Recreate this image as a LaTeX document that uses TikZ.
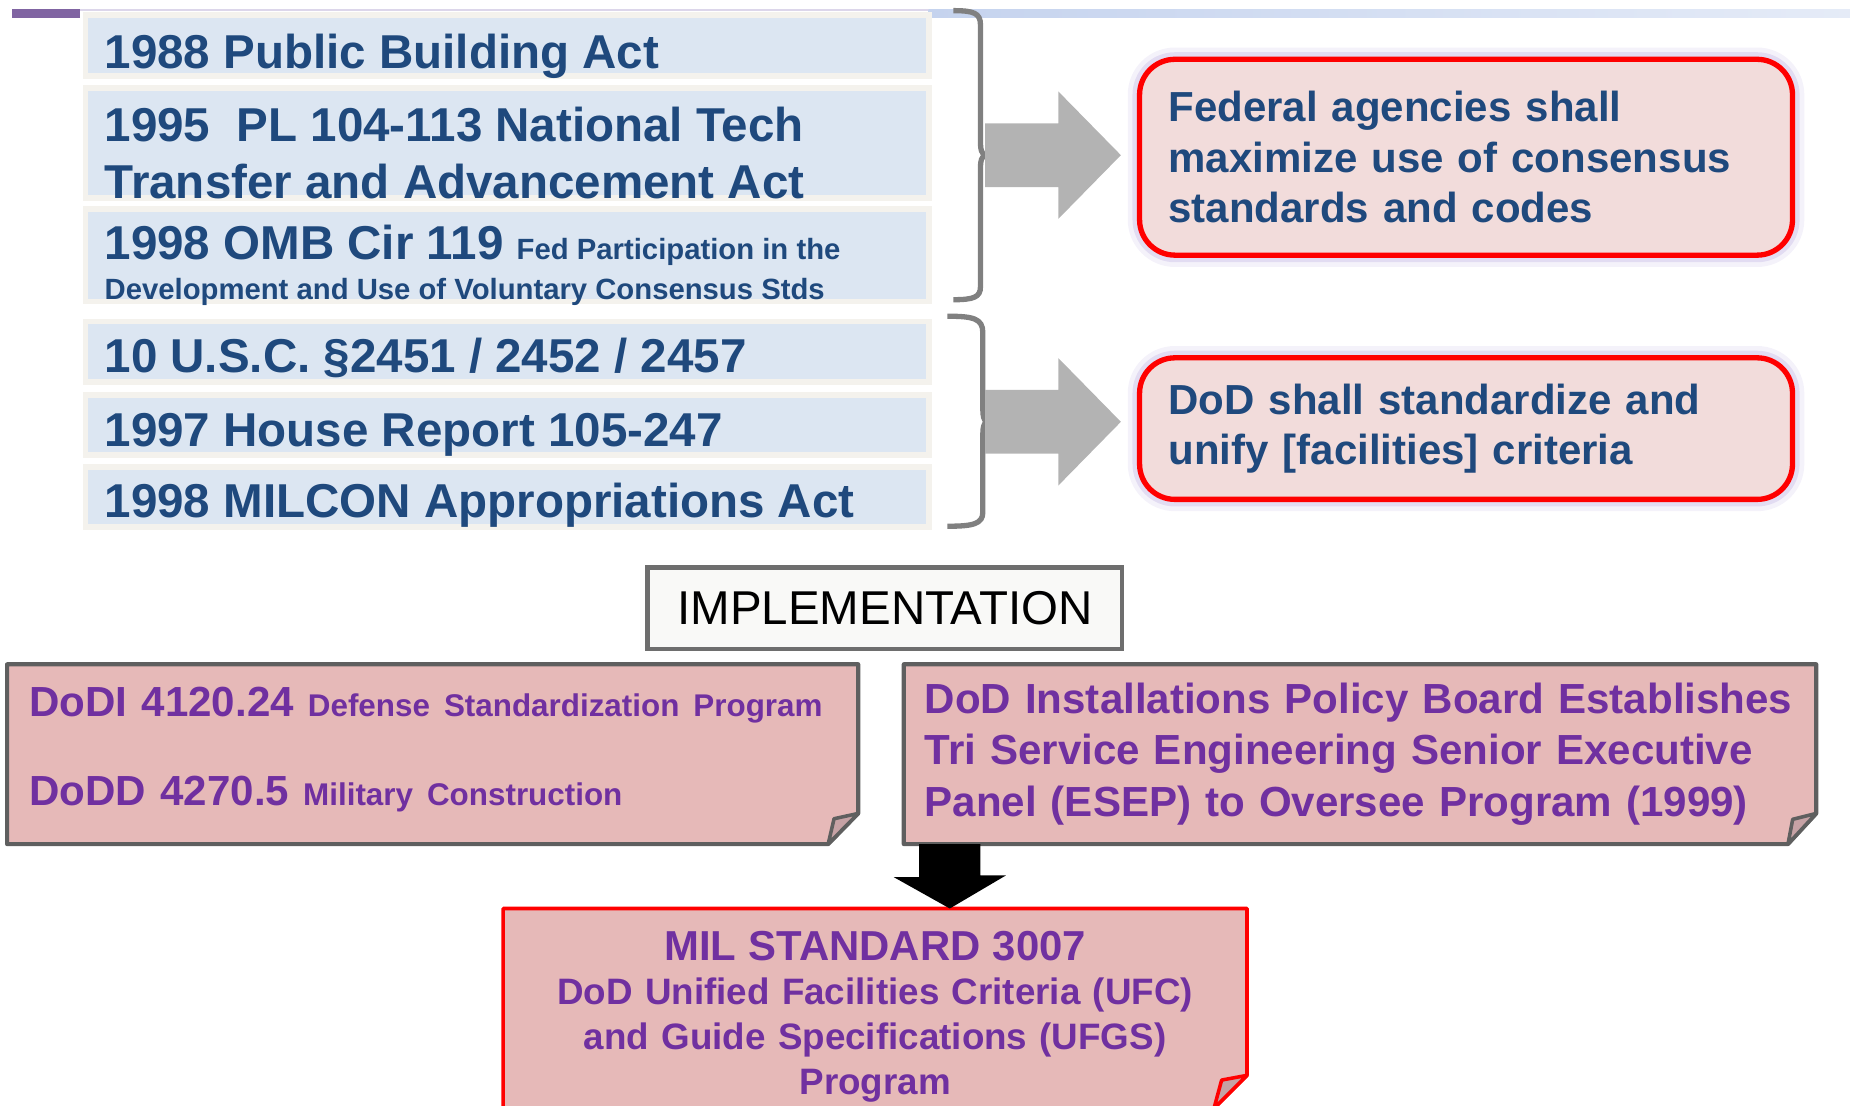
\documentclass[tikz,border=0pt]{standalone}
\usepackage{fontspec}
\setmainfont{Liberation Sans}
\usetikzlibrary{backgrounds}

\definecolor{lawblue}{HTML}{DCE6F2}
\definecolor{lawrim}{HTML}{F4F2ED}
\definecolor{lawink}{HTML}{1F497D}
\definecolor{bracegray}{HTML}{808080}
\definecolor{arrowgray}{HTML}{B3B3B3}
\definecolor{goalfill}{HTML}{F2DCDB}
\definecolor{goalglow}{HTML}{B4A2DC}
\definecolor{notefill}{HTML}{E6B9B8}
\definecolor{noteflap}{HTML}{C6A2A5}
\definecolor{noteedge}{HTML}{5F5F5F}
\definecolor{noteink}{HTML}{7030A0}
\definecolor{implfill}{HTML}{F9F9F7}
\definecolor{implrim}{HTML}{6E6E6E}
\definecolor{barpurple}{HTML}{8064A2}
\definecolor{barblue}{HTML}{C5D3EE}
\definecolor{barline}{HTML}{DCD6EA}

\newcommand{\lawbig}{\fontsize{11.46pt}{13.9pt}\selectfont\bfseries}
\newcommand{\lawsmall}{\fontsize{7.06pt}{8.5pt}\selectfont\bfseries}
\newcommand{\goalfont}{\fontsize{10.13pt}{12.23pt}\selectfont\bfseries}
\newcommand{\notebig}{\fontsize{10.15pt}{12.38pt}\selectfont\bfseries}
\newcommand{\notesmall}{\fontsize{7.57pt}{12.38pt}\selectfont\bfseries}
\newcommand{\milbig}{\fontsize{10.1pt}{10.81pt}\selectfont\bfseries}
\newcommand{\milfont}{\fontsize{8.87pt}{10.81pt}\selectfont\bfseries}
\newcommand{\implfont}{\fontsize{11.45pt}{13.6pt}\selectfont}

\tikzset{
  lawbox/.style={fill=lawblue, draw=lawrim, line width=0.05cm, minimum width=7.15cm, inner sep=0pt, anchor=north west},
  lawtext/.style={text=lawink, font=\lawbig, inner sep=0pt, anchor=base west},
  bracepath/.style={draw=bracegray, line width=0.045cm},
  goalbox/.style={rounded corners=0.3cm, fill=goalfill, draw=red, line width=0.045cm,
    text=lawink, font=\goalfont, align=left, anchor=north west,
    inner xsep=0.245cm, inner ysep=0pt, minimum width=5.534cm, text width=5.044cm,
    preaction={draw=goalglow, line width=0.2cm, opacity=0.14},
    preaction={draw=goalglow, line width=0.12cm, opacity=0.28}},
  notebox/.style={text=noteink, font=\notebig, align=left, anchor=north west, inner ysep=0pt},
  notepath/.style={fill=notefill, draw=noteedge, line width=0.035cm, line join=round},
  flappath/.style={fill=noteflap, draw=noteedge, line width=0.03cm, line join=round},
  milbox/.style={text=noteink, font=\milfont, align=center, anchor=north west, inner xsep=0.1cm, inner ysep=0pt,
    minimum width=6.29cm, text width=6.09cm, minimum height=1.68cm},
  implbox/.style={fill=implfill, draw=implrim, line width=0.04cm, font=\implfont, minimum width=4.02cm, minimum height=0.69cm}
}

\begin{document}
\begin{tikzpicture}
  \useasboundingbox (0,0) rectangle (15.68,-9.37);

  % Title bar remains along the top
  \fill[barpurple] (0.10,-0.08) rectangle (0.68,-0.155);
  \draw[barline, line width=0.015cm] (0.68,-0.085) -- (7.87,-0.085);
  \shade[left color=barblue, right color=barblue!45!white] (7.87,-0.08) rectangle (15.68,-0.15);

  % The acts and reports on the left
  \node[lawbox, minimum height=0.515cm] (pba)    at (0.70,-0.105) {};
  \node[lawbox, minimum height=0.93cm]  (ntta)   at (0.70,-0.72) {};
  \node[lawbox, minimum height=0.78cm]  (omb)    at (0.70,-1.75) {};
  \node[lawbox, minimum height=0.51cm]  (usc)    at (0.70,-2.70) {};
  \node[lawbox, minimum height=0.51cm]  (hrpt)   at (0.70,-3.32) {};
  \node[lawbox, minimum height=0.51cm]  (milcon) at (0.70,-3.93) {};

  \node[lawtext] (pbatxt)    at (0.88,-0.58) {1988 Public Building Act};
  \node[lawtext] (nttatxt)   at (0.88,-1.20) {1995\ \ PL 104-113 National Tech};
  \node[lawtext] (nttbtxt)   at (0.88,-1.68) {Transfer and Advancement Act};
  \node[lawtext] (ombtxt)    at (0.88,-2.20) {1998 OMB Cir 119 {\lawsmall Fed Participation in the}};
  \node[lawtext, font=\lawsmall] (ombsub) at (0.88,-2.54) {Development and Use of Voluntary Consensus Stds};
  \node[lawtext] (usctxt)    at (0.88,-3.16) {10 U.S.C. §2451 / 2452 / 2457};
  \node[lawtext] (hrpttxt)   at (0.88,-3.78) {1997 House Report 105-247};
  \node[lawtext] (milcontxt) at (0.88,-4.39) {1998 MILCON Appropriations Act};

  % Braces grouping the acts
  \draw[bracepath] (8.08,-0.09) .. controls (8.25,-0.09) and (8.31,-0.11) .. (8.31,-0.21) -- (8.31,-1.21)
    .. controls (8.31,-1.27) and (8.32,-1.30) .. (8.35,-1.315) .. controls (8.32,-1.33) and (8.31,-1.36) .. (8.31,-1.42)
    -- (8.31,-2.43) .. controls (8.31,-2.52) and (8.25,-2.54) .. (8.08,-2.54);
  \draw[bracepath] (8.03,-2.68) .. controls (8.25,-2.68) and (8.33,-2.70) .. (8.33,-2.82) -- (8.33,-3.47)
    .. controls (8.33,-3.53) and (8.34,-3.56) .. (8.36,-3.575) .. controls (8.34,-3.59) and (8.33,-3.62) .. (8.33,-3.68)
    -- (8.33,-4.34) .. controls (8.33,-4.44) and (8.25,-4.46) .. (8.03,-4.46);
  \coordinate (cusp1) at (8.35,-1.315);
  \coordinate (cusp2) at (8.35,-3.575);

  % What the acts require
  \node[goalbox, minimum height=1.66cm] (fedgoal) at (9.636,-0.48)
    {Federal agencies shall\\maximize use of consensus\\standards and codes};
  \node[goalbox, minimum height=1.20cm] (dodgoal) at (9.636,-3.01)
    {DoD shall standardize and\\unify [facilities] criteria};

  \fill[arrowgray] ([yshift=0.27cm]cusp1) -- ++(0.62,0) -- ++(0,0.27) -- ([xshift=-0.136cm]cusp1 -| fedgoal.west)
    -- ++(-0.53,-0.54) -- ++(0,0.27) -- ([yshift=-0.27cm]cusp1) -- cycle;
  \fill[arrowgray] ([yshift=0.27cm]cusp2) -- ++(0.62,0) -- ++(0,0.27) -- ([xshift=-0.136cm]cusp2 -| dodgoal.west)
    -- ++(-0.53,-0.54) -- ++(0,0.27) -- ([yshift=-0.27cm]cusp2) -- cycle;

  \node[implbox] (impl) at (7.50,-5.155) {IMPLEMENTATION};

  % Implementation notes with turned-up corners
  \node[notebox, inner xsep=0.183cm, text width=6.834cm, minimum width=7.20cm, minimum height=1.51cm] (dodi) at (0.06,-5.63)
    {\mbox{DoDI 4120.24 {\notesmall Defense Standardization Program}}\\[0.325cm]%
     \mbox{DoDD 4270.5 {\notesmall Military Construction}}\rule[-0.136cm]{0pt}{0.1pt}};
  \node[notebox, inner xsep=0.17cm, text width=7.38cm, minimum width=7.72cm, minimum height=1.51cm] (esep) at (7.66,-5.63)
    {\mbox{DoD Installations Policy Board Establishes}\\\mbox{Tri Service Engineering Senior Executive}\\\mbox{Panel (ESEP) to Oversee Program (1999)}};
  \node[milbox] (milstd) at (4.265,-7.70)
    {\rule{0pt}{0.386cm}{\milbig MIL STANDARD 3007}\\DoD Unified Facilities Criteria (UFC)\\and Guide Specifications (UFGS)\\Program};

  \begin{scope}[on background layer]
    \filldraw[notepath] (dodi.north west) -- (dodi.north east) -- ([yshift=0.26cm]dodi.south east)
      -- ([xshift=-0.255cm]dodi.south east) -- (dodi.south west) -- cycle;
    \filldraw[flappath] ([yshift=0.26cm]dodi.south east) -- ++(-0.205,-0.045) -- ([xshift=-0.255cm]dodi.south east) -- cycle;
    \filldraw[notepath] (esep.north west) -- (esep.north east) -- ([yshift=0.26cm]esep.south east)
      -- ([xshift=-0.24cm]esep.south east) -- (esep.south west) -- cycle;
    \filldraw[flappath] ([yshift=0.26cm]esep.south east) -- ++(-0.20,-0.05) -- ([xshift=-0.24cm]esep.south east) -- cycle;
    \filldraw[notepath, draw=red, line width=0.03cm] (milstd.north west) -- (milstd.north east) -- ([yshift=0.28cm]milstd.south east)
      -- ([xshift=-0.28cm]milstd.south east) -- (milstd.south west) -- cycle;
    \filldraw[flappath, draw=red] ([yshift=0.28cm]milstd.south east) -- ++(-0.215,-0.04) -- ([xshift=-0.28cm]milstd.south east) -- cycle;
  \end{scope}

  % Block arrow down to the standard
  \coordinate (drop) at ([xshift=0.39cm]esep.south west);
  \fill[black] ([xshift=-0.26cm]drop) -- ++(0,-0.28) -- ++(-0.215,0) -- (drop |- milstd.north)
    -- ++(0.475,0.28) -- ++(-0.215,0) -- ([xshift=0.26cm]drop) -- cycle;
\end{tikzpicture}
\end{document}
